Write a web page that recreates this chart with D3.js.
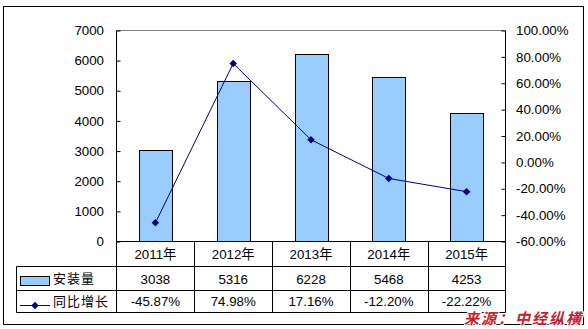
<!DOCTYPE html>
<html><head><meta charset="utf-8">
<script src="https://cdn.jsdelivr.net/npm/d3@7"></script>
<style>
body{margin:0;background:#fff;}
svg text{font-family:"Liberation Sans",Arial,"Noto Sans CJK SC",sans-serif;}
</style></head>
<body><svg id="c" width="588" height="329"></svg>
<script>
const categories = ["2011年","2012年","2013年","2014年","2015年"];
const installs = [3038,5316,6228,5468,4253];
const growth = [-45.87,74.98,17.16,-12.20,-22.22];
const installLabels = ["3038","5316","6228","5468","4253"];
const growthLabels = ["-45.87%","74.98%","17.16%","-12.20%","-22.22%"];
const leftTicks = [0,1000,2000,3000,4000,5000,6000,7000];
const rightTicks = [-60,-40,-20,0,20,40,60,80,100];
const seriesNames = ["安装量","同比增长"];
const sourceText = "来源：中经纵横";

const svg = d3.select("#c");
const L = 116.5, R = 505.5, T = 30.5, B = 241.5;
const rowY = [241.5, 266.5, 290.5, 312.5];
const tableLeft = 16.5;
const FS = 13.3;

const x = d3.scaleBand().domain(categories).range([L, R]).padding(0);
const y = d3.scaleLinear().domain([0,7000]).range([B, T]);
const y2 = d3.scaleLinear().domain([-60,100]).range([B, T]);

// outer border
svg.append("rect").attr("x",3.5).attr("y",6.5).attr("width",580).attr("height",318)
  .attr("fill","none").attr("stroke","#000").attr("stroke-width",1);

// top gray line
svg.append("line").attr("x1",L).attr("x2",R).attr("y1",T).attr("y2",T).attr("stroke","#808080");

// bars
const bw = x.bandwidth()*0.42;
svg.selectAll("rect.bar").data(installs).enter().append("rect")
  .attr("x",(d,i)=>Math.round(x(categories[i])+x.bandwidth()/2-bw/2)+0.5)
  .attr("y",d=>Math.round(y(d))+0.5)
  .attr("width",Math.round(bw))
  .attr("height",d=>B-Math.round(y(d))-0.5)
  .attr("fill","#99ccff").attr("stroke","#000").attr("stroke-width",1);

// left axis
const la = svg.append("g").attr("transform",`translate(${L},0)`)
  .call(d3.axisRight(y).tickValues(leftTicks).tickSize(4));
la.select(".domain").remove();
la.selectAll("text").remove();
svg.append("line").attr("x1",L).attr("x2",L).attr("y1",T).attr("y2",rowY[3]).attr("stroke","#000");
svg.selectAll("text.ly").data(leftTicks).enter().append("text")
  .attr("x",104).attr("y",d=>y(d)).attr("dy","0.35em").attr("text-anchor","end")
  .attr("font-size",FS).attr("fill","#000").text(d=>d);

// right axis
const ra = svg.append("g").attr("transform",`translate(${R},0)`)
  .call(d3.axisLeft(y2).tickValues(rightTicks).tickSize(4));
ra.select(".domain").remove();
ra.selectAll("text").remove();
svg.append("line").attr("x1",R).attr("x2",R).attr("y1",T).attr("y2",rowY[3]).attr("stroke","#000");
svg.selectAll("text.ry").data(rightTicks).enter().append("text")
  .attr("x",516).attr("y",d=>y2(d)).attr("dy","0.35em").attr("text-anchor","start")
  .attr("font-size",FS).attr("fill","#000").text(d=>d.toFixed(2)+"%");

// line series
const line = d3.line().x((d,i)=>x(categories[i])+x.bandwidth()/2).y(d=>y2(d));
svg.append("path").datum(growth).attr("d",line).attr("fill","none").attr("stroke","#000080").attr("stroke-width",1);
const diamond = d3.symbol().type(d3.symbolDiamond2).size(36);
svg.selectAll("path.m").data(growth).enter().append("path")
  .attr("transform",(d,i)=>`translate(${x(categories[i])+x.bandwidth()/2},${y2(d)})`)
  .attr("d",diamond).attr("fill","#000080");

// table
const tg = svg.append("g");
tg.append("line").attr("x1",L).attr("x2",R).attr("y1",rowY[0]).attr("y2",rowY[0]).attr("stroke","#000");
[1,2,3].forEach(k=>tg.append("line").attr("x1",tableLeft).attr("x2",R).attr("y1",rowY[k]).attr("y2",rowY[k]).attr("stroke","#000"));
tg.append("line").attr("x1",tableLeft).attr("x2",tableLeft).attr("y1",rowY[1]).attr("y2",rowY[3]).attr("stroke","#000");
categories.forEach((c,i)=>{
  if(i>0){
    const xx = Math.round(x(c))+0.5;
    tg.append("line").attr("x1",xx).attr("x2",xx).attr("y1",rowY[0]).attr("y2",rowY[3]).attr("stroke","#000");
  }
});
const cx = c => x(c)+x.bandwidth()/2;
tg.selectAll("text.cat").data(categories).enter().append("text")
  .attr("x",d=>cx(d)).attr("y",(rowY[0]+rowY[1])/2).attr("dy","0.38em")
  .attr("text-anchor","middle").attr("font-size",FS).text(d=>d);
tg.selectAll("text.v1").data(installLabels).enter().append("text")
  .attr("x",(d,i)=>cx(categories[i])).attr("y",(rowY[1]+rowY[2])/2).attr("dy","0.38em")
  .attr("text-anchor","middle").attr("font-size",FS).text(d=>d);
tg.selectAll("text.v2").data(growthLabels).enter().append("text")
  .attr("x",(d,i)=>cx(categories[i])).attr("y",(rowY[2]+rowY[3])/2 - 0.5).attr("dy","0.36em")
  .attr("text-anchor","middle").attr("font-size",FS).text(d=>d);

// legend keys
tg.append("rect").attr("x",20.5).attr("y",276.5).attr("width",29).attr("height",9)
  .attr("fill","#99ccff").attr("stroke","#000");
tg.append("line").attr("x1",20).attr("x2",50).attr("y1",305.5).attr("y2",305.5).attr("stroke","#000080");
tg.append("path").attr("transform","translate(35,305.5)").attr("d",diamond).attr("fill","#000080");
tg.append("text").attr("x",53).attr("y",(rowY[1]+rowY[2])/2).attr("dy","0.38em")
  .attr("font-size",13).attr("letter-spacing",1).text(seriesNames[0]);
tg.append("text").attr("x",53).attr("y",(rowY[2]+rowY[3])/2).attr("dy","0.38em")
  .attr("font-size",13).attr("letter-spacing",1).text(seriesNames[1]);

// source
svg.append("text").attr("x",583).attr("y",324).attr("text-anchor","end")
  .attr("font-size",15).attr("font-weight","bold").attr("font-style","italic")
  .attr("letter-spacing",2)
  .attr("fill","#c8202a").attr("stroke","#fff").attr("stroke-width",2).attr("paint-order","stroke")
  .style("font-family","'Noto Sans CJK SC',sans-serif")
  .text(sourceText);
</script></body></html>
